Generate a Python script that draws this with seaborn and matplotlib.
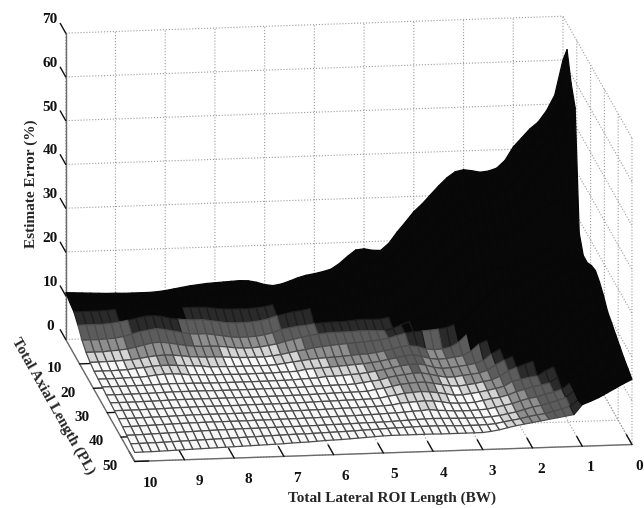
import numpy as np
import matplotlib
matplotlib.use("Agg")
import matplotlib.pyplot as plt
from matplotlib.colors import ListedColormap, BoundaryNorm
from matplotlib.transforms import Affine2D
import seaborn as sns

# Total lateral ROI length (BW), left to right; total axial length (PL), back to front
lateral_bw = np.linspace(10, 0, 61)
axial_pl = np.linspace(0, 50, 18)
x_ticks = [0, 1, 2, 3, 4, 5, 6, 7, 8, 9, 10]
y_ticks = [10, 20, 30, 40, 50]
z_ticks = [0, 10, 20, 30, 40, 50, 60, 70]

# Estimate error (%) per axial row
err_row00 = [10.7,10.6,10.5,10.4,10.3,10.2,10.2, 10.1,10.1,10.1,10.1,10.2,10.4, 10.7,11.0,11.3,11.5,11.7,11.8, 11.9,12.0,12.1,12.0,11.6,11.0, 10.7,11.0,11.6,12.3,12.8,13.1, 13.5,14.0,15.2,16.8,18.2,18.4, 18.0,17.9,19.5,22.0,24.2,26.5, 28.2,30.2,32.2,34.0,35.3,35.7, 35.4,35.0,35.2,35.8,37.5,40.5, 42.5,44.5,46.0,48.5,52,60]
err_row01 = [10.1,10.1,10.1,10.1,10.0,10.0,10.1, 10.3,10.3,10.3,10.2,10.2,10.2, 10.2,10.3,10.4,10.5,10.7,10.9, 11,11,11,10.8,10.5,10.3, 10.4,10.7,11.1,11.5,11.8,12.1, 12.4,12.9,13.9,15.3,16.6,16.9, 16.8,16.9,18,20.5,22.5,24.8, 26.5,28.5,30,32,33.3,34, 34,33.8,34,34.8,36.2,39, 41,43,45,47.5,51,64]
err_row02 = [9.6,9.6,9.6,9.6,9.7,9.8,10.1, 10.3,10.5,10.5,10.4,10.1,9.8, 9.7,9.7,9.7,9.6,9.3,9.1, 9.0,9.0,9.0,9.1,9.3,9.7, 10.1,10.4,10.8,11,11.2,11.3, 11.5,11.9,12.6,13.8,15,15.5, 15.6,15.9,17,19,21,23, 25,27,28.5,30,31.5,32.5, 33,33,33.5,34.2,35.5,38, 40.5,42.5,44.5,47,51,58]
err_row03 = [8.2,8.2,8.2,8.2,8.35,8.6,8.9, 9.3,9.7,9.8,9.6,9.1,8.8, 8.6,8.5,8.5,8.2,7.9,7.6, 7.5,7.5,7.6,7.8,8.2,8.8, 9.2,9.6,9.8,10.2,10.3,10.4, 10.6,11,11.7,12.6,13.3,13.8, 14,14.2,15,16.8,18.5,20.5, 22.5,24.5,26,27.5,28.8,29.6, 30,30,30.5,31.5,33,35.5, 38,40,42.5,45,49,54]
err_row04 = [6.4,6.4,6.4,6.5,6.6,6.9,7.4, 7.9,8.2,8.5,8.2,7.8,7.4, 7.0,6.9,6.9,6.6,6.3,5.95, 5.83,5.83,5.95,6.2,6.6,7.3, 7.6,7.9,8.05,8.35,8.5,8.6, 8.6,8.7,8.9,9.0,8.9,8.9, 9.3,10.4,11.5,12.5,13.5,15, 19.5,21.5,23,24.5,25.8,26.5, 27,27,27.3,28,29,30.5, 32,33.5,34.5,34,31,27]
err_row05 = [5.25,5.25,5.25,5.4,5.5,5.7,6.05, 6.5,6.9,7.0,6.75,6.4,6.05, 5.83,5.7,5.7,5.6,5.4,5.13, 5.0,5.0,5.13,5.4,5.7,6.2, 6.6,7.0,7.4,7.6,7.8,7.9, 7.9,7.95,8.05,8.05,7.95,7.9, 8.35,9.1,9.8,10.2,10.5,11.5, 12,13.5,15.5,18,19.5,20.5, 21,21.3,21.7,22.3,23,24, 24.8,25.3,25.5,25,24,23.5]
err_row06 = [4.6,4.6,4.67,4.67,4.8,4.9,5.13, 5.4,5.6,5.7,5.6,5.4,5.13, 5.0,4.9,4.9,4.8,4.67,4.55, 4.5,4.5,4.5,4.67,4.9,5.25, 5.6,5.83,6.2,6.4,6.6,6.75, 6.9,7.0,7.15,7.3,7.5,7.8, 8.35,8.8,9.1,9.2,9.3,9.5, 9.8,10.5,11.5,13,15,17, 18.5,19,19.5,20.3,21.2,22, 23,23.6,24,24,23.8,23.5]
err_row07 = [4.2,4.2,4.2,4.25,4.3,4.55,4.67, 4.9,5.0,5.0,4.9,4.8,4.67, 4.55,4.3,4.3,4.25,4.2,4.2, 4.2,4.2,4.2,4.3,4.55,4.8, 5.0,5.25,5.4,5.5,5.6,5.7, 5.83,6.0,6.05,6.3,6.6,7.0, 7.4,7.6,7.4,6.75,6.5,6.6, 7.0,8.05,9.8,10.5,11.2,12, 13,14,15,16.5,18,19.5, 21.5,22.5,23.5,24.2,24.5,24.5]
err_row08 = [4.05,4.05,4.05,4.1,4.15,4.15,4.3, 4.55,4.67,4.67,4.55,4.35,4.3, 4.2,4.15,4.15,4.1,4.05,4.05, 4.1,4.1,4.1,4.2,4.25,4.3, 4.67,4.8,4.9,5.0,5.13,5.25, 5.4,5.5,5.7,5.95,6.3,6.6, 7.0,7.15,6.75,6.2,5.95,6.05, 6.3,6.6,7.6,9.2,10,10.8, 11.5,12.3,13.2,14.2,15.5,17, 18.5,20.5,22.5,24.5,25,25]
err_row09 = [3.9,3.9,3.9,3.9,3.95,3.95,4.0, 4.05,4.1,4.1,4.05,4.05,4.0, 3.95,3.95,3.95,3.95,3.95,3.95, 3.95,3.95,4.0,4.0,4.05,4.15, 4.25,4.3,4.55,4.55,4.67,4.8, 4.9,5.13,5.4,5.7,6.05,6.4, 6.6,6.75,6.4,5.83,5.5,5.6, 5.83,6.05,6.4,7.0,8.5,9.5, 10.2,10.8,11.5,12.5,13.8,15.5, 17.5,19.5,21.5,23.5,24,24]
err_row10 = [3.7,3.7,3.7,3.7,3.75,3.75,3.8, 3.85,3.9,3.9,3.9,3.9,3.9, 3.85,3.85,3.85,3.85,3.85,3.85, 3.9,3.9,3.9,3.9,3.95,4.0, 4.1,4.1,4.15,4.2,4.2,4.3, 4.55,4.8,5.0,5.5,5.83,6.05, 6.3,6.3,5.95,5.5,5.13,5.13, 5.4,5.6,5.83,6.4,7.6,8.6, 9.4,10,10.6,11.3,12.3,13.8, 16,18.5,20.5,22,22.5,22.5]
err_row11 = [3.55,3.55,3.55,3.55,3.6,3.6,3.65, 3.7,3.75,3.75,3.75,3.75,3.75, 3.75,3.75,3.75,3.75,3.75,3.75, 3.8,3.8,3.8,3.85,3.85,3.9, 3.95,4.0,4.05,4.1,4.1,4.15, 4.2,4.55,4.8,5.13,5.5,5.7, 5.83,5.83,5.5,5.13,4.8,4.67, 4.9,5.13,5.5,5.83,6.6,7.8, 8.5,9.2,9.8,10.3,11.2,12.5, 14.5,17,18.5,20,20.5,20.5]
err_row12 = [3.4,3.4,3.4,3.4,3.45,3.45,3.5, 3.55,3.6,3.6,3.65,3.65,3.65, 3.65,3.65,3.65,3.7,3.7,3.7, 3.7,3.7,3.75,3.75,3.8,3.85, 3.9,3.9,3.95,4.0,4.0,4.05, 4.1,4.2,4.55,4.8,5.13,5.25, 5.4,5.25,5.0,4.67,4.3,4.3, 4.55,4.8,5.13,5.5,5.95,7.0, 7.4,7.8,8.05,9.2,10,11, 12.5,15,17,18.5,19.5,19.5]
err_row13 = [3.2,3.2,3.2,3.25,3.3,3.3,3.35, 3.4,3.45,3.5,3.5,3.5,3.5, 3.5,3.5,3.5,3.55,3.55,3.55, 3.6,3.6,3.65,3.65,3.7,3.7, 3.75,3.8,3.85,3.85,3.9,3.95, 4.0,4.1,4.2,4.55,4.67,4.8, 4.9,4.8,4.55,4.2,4.1,4.1, 4.2,4.55,4.9,5.13,5.6,6.3, 6.75,7.3,7.6,8.05,9.2,10, 11.5,13.5,15.5,17,18,18.5]
err_row14 = [3.0,3.0,3.05,3.1,3.15,3.2,3.25, 3.3,3.35,3.35,3.4,3.4,3.4, 3.4,3.4,3.4,3.45,3.45,3.45, 3.5,3.5,3.5,3.55,3.55,3.6, 3.65,3.7,3.7,3.75,3.8,3.85, 3.9,4.0,4.05,4.15,4.3,4.35, 4.55,4.3,4.2,4.05,4.0,4.0, 4.1,4.2,4.55,4.9,5.25,5.83, 6.3,6.6,7.15,7.6,8.2,9.6, 10.5,12.5,14,15.5,16.5,17.5]
err_row15 = [2.7,2.7,2.75,2.8,2.85,2.9,2.95, 3.0,3.05,3.1,3.15,3.2,3.2, 3.25,3.3,3.3,3.3,3.35,3.35, 3.4,3.4,3.4,3.45,3.45,3.5, 3.55,3.55,3.6,3.65,3.7,3.7, 3.75,3.8,3.9,3.95,4.05,4.1, 4.15,4.1,4.05,4.0,3.95,3.95, 4.0,4.1,4.3,4.67,5.0,5.5, 6.0,6.3,6.75,7.3,7.9,9.4, 10,11,12.5,14,15.5,16.5]
err_row16 = [2.4,2.4,2.45,2.45,2.5,2.55,2.6, 2.65,2.7,2.75,2.8,2.85,2.9, 2.95,3.0,3.05,3.1,3.15,3.2, 3.25,3.3,3.3,3.35,3.4,3.45, 3.5,3.55,3.6,3.7,3.75,3.8, 3.9,3.95,4.0,4.05,4.1,4.1, 4.1,4.05,4.0,3.95,3.95,3.95, 4.0,4.15,4.5,4.8,5.1,5.5, 5.83,6.05,6.5,7.0,7.6,8.9, 10,10.8,12,13.2,14.5,15.7]
err_row17 = [2.05,2.1,2.1,2.15,2.2,2.25,2.3, 2.35,2.4,2.45,2.5,2.55,2.6, 2.65,2.7,2.75,2.8,2.85,2.9, 3.0,3.05,3.1,3.2,3.3,3.35, 3.4,3.5,3.6,3.7,3.8,3.9, 3.95,3.95,3.95,3.95,3.95,3.95, 3.9,3.9,3.9,3.9,3.9,3.9, 4.1,4.4,4.8,5.2,5.5,5.8, 6.1,6.4,6.7,7.0,7.3,9.5, 10.2,11,12,13,14,14.9]

error_rows = [err_row00, err_row01, err_row02, err_row03, err_row04, err_row05,
              err_row06, err_row07, err_row08, err_row09, err_row10, err_row11,
              err_row12, err_row13, err_row14, err_row15, err_row16, err_row17]

level_edges = [0, 4.55, 5.25, 6.4, 8.05, 9.2, 100]
level_grays = ["#f8f8f8", "#d4d4d4", "#8e8e8e", "#5c5c5c", "#2a2a2a", "#080808"]

sns.set_theme(style="white")
plt.rcParams["font.family"] = ["Liberation Serif", "DejaVu Serif"]
plt.rcParams["font.weight"] = "bold"
plt.rcParams["text.color"] = "#111111"

Z = np.array(error_rows)
X, Y = np.meshgrid(lateral_bw, axial_pl)

fig = plt.figure(figsize=(6.44, 5.08), dpi=100)
ax = fig.add_axes([20 / 644, 8.3 / 508, 1, 1], projection="3d", facecolor="none")
ax.set_proj_type("ortho")
ax.view_init(elev=14.2, azim=82.1)
ax.set_box_aspect((502, 502, 316), zoom=1.485)

palette = sns.color_palette(level_grays)
cmap = ListedColormap(palette)
norm = BoundaryNorm(level_edges, cmap.N)
surf = ax.plot_surface(X, Y, Z, rstride=1, cstride=1, cmap=cmap, norm=norm,
                       linewidth=0.9, antialiased=True, shade=False)
surf.set_clip_on(False)
cell_avg = (Z[:-1, :-1] + Z[1:, :-1] + Z[:-1, 1:] + Z[1:, 1:]).ravel() / 4
surf.set_edgecolors(["#070707" if v > 9.2 else "#1c1c1c" if v > 8.05 else "#4c4c4c" for v in cell_avg])

ax.set_xlim(0, 10)
ax.set_ylim(0, 50)
ax.set_zlim(0, 70)
ax.set_xticks(x_ticks)
ax.set_yticks(y_ticks)
ax.set_zticks(z_ticks)
ax.tick_params(axis="both", labelsize=11, colors="#111111", pad=1)

for axis in (ax.xaxis, ax.yaxis, ax.zaxis):
    axis.pane.fill = False
    axis.pane.set_edgecolor("none")
    axis.line.set_color("#6a6a6a")
    axis.line.set_linewidth(1.0)
    axis._axinfo["grid"].update(color="#9a9a9a", linestyle=":", linewidth=0.8)
    axis._axinfo["tick"].update(inward_factor=0.0, outward_factor=0.35)
    axis._axinfo["tick"]["linewidth"] = {True: 1.0, False: 0.5}
ax.xaxis._axinfo["tick"]["outward_factor"] = 1.0
ax.zaxis._axinfo["tick"]["outward_factor"] = 1.0
ax.grid(True)

ax.zaxis.set_ticks_position("lower")
ax.zaxis.set_label_position("lower")
ax.zaxis._get_tickdir = lambda pos: 1

ax.xaxis.set_rotate_label(False)
ax.set_xlabel("Total Lateral ROI Length (BW)", fontsize=11, fontweight="bold", rotation=0, labelpad=-10)
ax.set_ylabel("Total Axial Length (PL)", fontsize=11, fontweight="bold", labelpad=-8)
ax.set_zlabel("Estimate Error (%)", fontsize=11, fontweight="bold", labelpad=-8)

def nudge_label(axis, dx, dy):
    shifted = ax.transData + Affine2D().translate(dx, dy)
    axis.label.get_transform = lambda: shifted

nudge_label(ax.xaxis, 5, -21)
nudge_label(ax.yaxis, -13, 17)
nudge_label(ax.zaxis, 4, -5)

def nudge_ticklabels(axis, offsets):
    original = axis.get_major_ticks
    def patched(numticks=None):
        ticks = original(numticks)
        for k, tick in enumerate(ticks):
            dx, dy = offsets(k)
            tick.label1.set_transform(ax.transData + Affine2D().translate(dx, dy))
        return ticks
    axis.get_major_ticks = patched

nudge_ticklabels(ax.zaxis, lambda k: (11, 15))
nudge_ticklabels(ax.xaxis, lambda k: (4 + 0.8 * k, 5))
nudge_ticklabels(ax.yaxis, lambda k: (-1.5, 17))

fig.savefig("out.png", dpi=100, facecolor="white")
